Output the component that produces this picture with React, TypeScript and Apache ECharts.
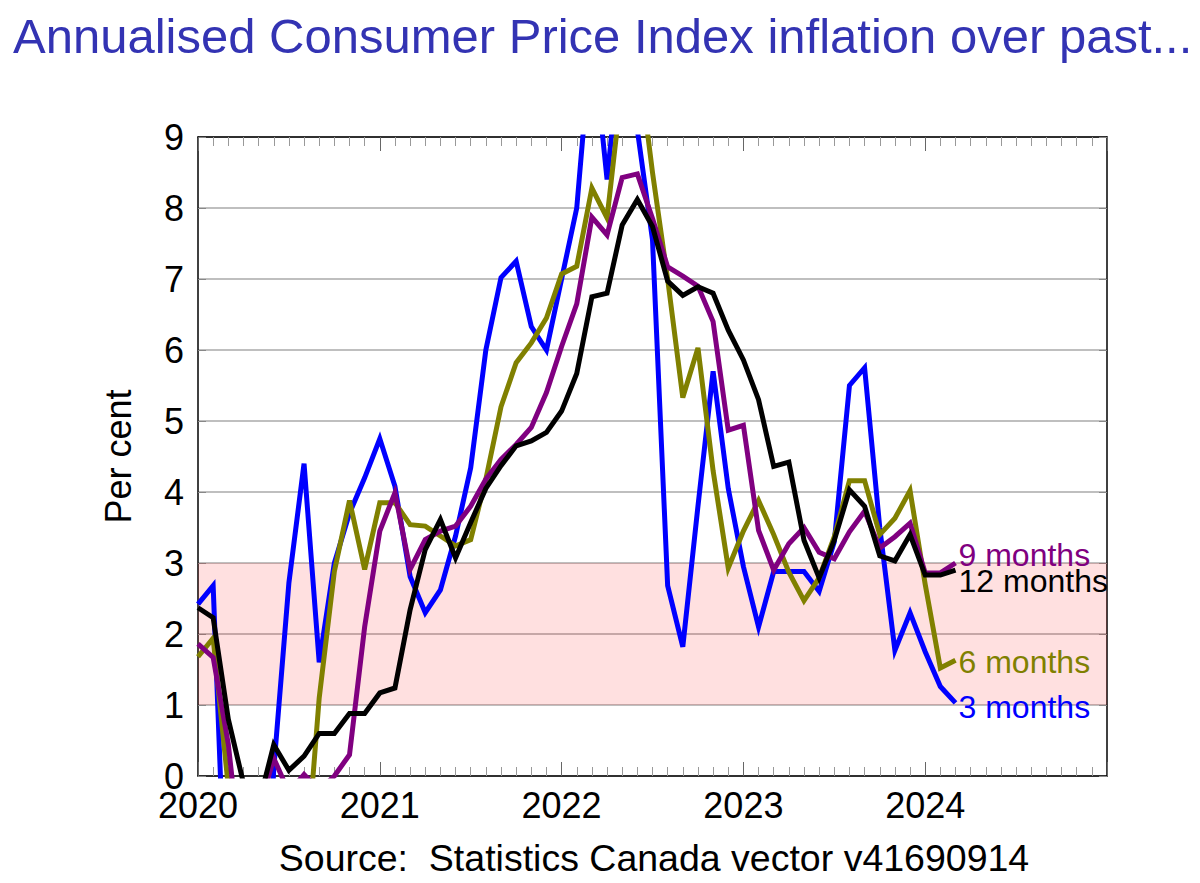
import React, { useEffect, useRef } from "react";
import * as echarts from "echarts";

const FONT = '"Liberation Sans", Arial, sans-serif';

const titleText = "Annualised Consumer Price Index inflation over past...";
const sourceText = "Source:  Statistics Canada vector v41690914";
const yAxisName = "Per cent";
const startYear = 2020;
const yearTicks = [2020, 2021, 2022, 2023, 2024];

// Monthly values, Jan 2020 .. Mar 2024 (per cent, annualised)
const months3 = [
  2.42, 2.68, -2.9, -5.0, -4.5, 0.1, 2.72, 4.4, 1.6, 3.0, 3.7, 4.2,
  4.75, 4.08, 2.81, 2.3, 2.62, 3.38, 4.34, 6.0, 7.02, 7.25, 6.33, 6.0,
  7.0, 8.0, 10.5, 8.4, 10.5, 9.1, 7.55, 2.68, 1.82, 3.8, 5.7, 4.05,
  2.95, 2.1, 2.88, 2.88, 2.88, 2.6, 3.3, 5.5, 5.75, 3.5, 1.77, 2.3,
  1.75, 1.26, 1.03,
];
const months6 = [
  1.68, 1.94, -0.15, -3.0, -4.0, -3.0, -2.5, -1.6, 1.1, 2.88, 3.88, 2.91,
  3.85, 3.85, 3.54, 3.52, 3.38, 3.24, 3.33, 4.18, 5.2, 5.82, 6.1, 6.45,
  7.07, 7.18, 8.28, 7.86, 9.75, 10.2, 8.5, 7.0, 5.33, 6.03, 4.3, 2.93,
  3.45, 3.88, 3.4, 2.87, 2.47, 2.79, 3.37, 4.16, 4.16, 3.4, 3.63, 4.02,
  2.7, 1.52, 1.63,
];
const months9 = [
  1.86, 1.67, 0.45, -1.5, -0.5, 0.25, -0.23, 0.02, -0.2, 0.0, 0.3, 2.1,
  3.45, 3.99, 2.91, 3.33, 3.45, 3.52, 3.8, 4.18, 4.46, 4.67, 4.91, 5.4,
  6.05, 6.65, 7.87, 7.62, 8.43, 8.48, 7.85, 7.17, 7.04, 6.9, 6.4, 4.87,
  4.94, 3.46, 2.9, 3.27, 3.5, 3.15, 3.06, 3.44, 3.73, 3.21, 3.37, 3.56,
  2.86, 2.86, 3.0,
];
const months12 = [
  2.37, 2.23, 0.8, -0.1, -0.4, 0.44, 0.08, 0.28, 0.6, 0.6, 0.88, 0.88,
  1.17, 1.24, 2.34, 3.19, 3.61, 3.07, 3.57, 4.05, 4.37, 4.65, 4.72, 4.84,
  5.14, 5.67, 6.75, 6.8, 7.76, 8.12, 7.74, 6.97, 6.77, 6.89, 6.8, 6.28,
  5.86, 5.3, 4.36, 4.42, 3.32, 2.79, 3.32, 4.03, 3.8, 3.1, 3.03, 3.4,
  2.83, 2.83, 2.9,
];

const seriesNames = ["3 months", "6 months", "9 months", "12 months"];
const seriesColors = ["#0000FF", "#808000", "#800080", "#000000"];
const seriesValues = [months3, months6, months9, months12];
const labelOffsets = [
  [0, 4],
  [0, 2],
  [0, -8],
  [0, 11],
];

const targetBand = [1, 3];

export default function App() {
  const ref = useRef<HTMLDivElement>(null);

  useEffect(() => {
    if (!ref.current) return;
    const chart = echarts.init(ref.current, null, { renderer: "svg" });

    const xCommon = {
      type: "value",
      min: 0,
      max: 60,
      interval: 12,
      axisLine: { show: true, onZero: false, lineStyle: { color: "#000", width: 1.5 } },
      axisTick: { show: true, inside: true, length: 14, lineStyle: { color: "#666", width: 1 } },
      minorTick: { show: true, splitNumber: 12, length: 9, lineStyle: { color: "#999", width: 1 } },
      splitLine: { show: false },
      minorSplitLine: { show: false },
    };

    const yCommon = {
      type: "value",
      min: 0,
      max: 9,
      interval: 1,
      axisLine: { show: true, onZero: false, lineStyle: { color: "#000", width: 1.5 } },
      axisTick: { show: true, inside: true, length: 8, lineStyle: { color: "#888", width: 1 } },
    };

    const lineSeries = seriesNames.map((name, k) => ({
      name,
      type: "line",
      data: seriesValues[k].map((v, i) => [i, v]),
      showSymbol: false,
      symbol: "none",
      clip: true,
      z: 3 + k,
      lineStyle: { color: seriesColors[k], width: 5, join: "miter" },
      itemStyle: { color: seriesColors[k] },
      endLabel: {
        show: true,
        formatter: name,
        color: seriesColors[k],
        fontSize: 32,
        fontFamily: FONT,
        distance: 3,
        offset: labelOffsets[k],
      },
    }));

    chart.setOption({
      animation: false,
      title: {
        text: titleText,
        left: 8,
        top: 6,
        textStyle: { fontFamily: FONT, fontSize: 49, fontWeight: "normal", color: "#3333B3" },
      },
      grid: { left: 198, right: 93, top: 137, bottom: 107 },
      xAxis: [
        {
          ...xCommon,
          position: "bottom",
          axisLabel: {
            formatter: (v: number) => {
              const y = startYear + v / 12;
              return yearTicks.includes(y) ? String(y) : "";
            },
            fontSize: 36,
            fontFamily: FONT,
            color: "#000",
            margin: 11,
          },
        },
        { ...xCommon, position: "top", axisLabel: { show: false } },
      ],
      yAxis: [
        {
          ...yCommon,
          position: "left",
          name: yAxisName,
          nameLocation: "middle",
          nameGap: 62,
          nameRotate: 90,
          nameTextStyle: { fontFamily: FONT, fontSize: 36, color: "#000" },
          axisLabel: { fontSize: 36, fontFamily: FONT, color: "#000", margin: 14 },
          splitLine: { show: true, lineStyle: { color: "#aaaaaa", width: 1.5 } },
        },
        {
          ...yCommon,
          position: "right",
          axisLabel: { show: false },
          splitLine: { show: false },
        },
      ],
      series: [
        {
          name: "band",
          type: "line",
          data: [],
          z: 1,
          markArea: {
            silent: true,
            itemStyle: { color: "rgba(255,0,0,0.12)" },
            data: [[{ yAxis: targetBand[0] }, { yAxis: targetBand[1] }]],
          },
        },
        ...lineSeries,
      ],
      graphic: [
        {
          type: "text",
          x: 654,
          y: 858,
          style: {
            text: sourceText,
            fontSize: 37.5,
            fontFamily: FONT,
            fill: "#000",
            align: "center",
            verticalAlign: "middle",
          },
        },
      ],
    });

    return () => chart.dispose();
  }, []);

  return (
    <div
      ref={ref}
      style={{ position: "absolute", left: 0, top: 0, width: 1200, height: 883, background: "#fff" }}
    />
  );
}
